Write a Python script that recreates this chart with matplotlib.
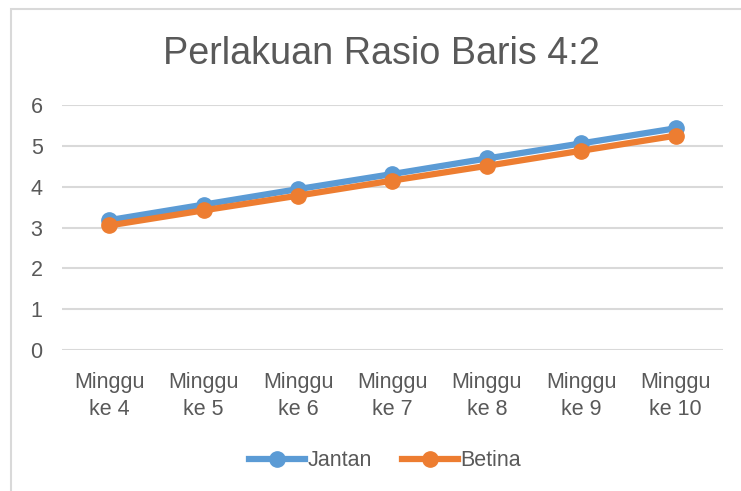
import matplotlib.pyplot as plt
from matplotlib.patches import Rectangle

minggu = ["Minggu\nke 4", "Minggu\nke 5", "Minggu\nke 6", "Minggu\nke 7",
          "Minggu\nke 8", "Minggu\nke 9", "Minggu\nke 10"]
jantan = [3.18, 3.56, 3.94, 4.31, 4.69, 5.06, 5.43]
betina = [3.05, 3.42, 3.78, 4.15, 4.51, 4.88, 5.25]

plt.rcParams['font.family'] = ['Liberation Sans', 'DejaVu Sans']
text_col = '#595959'

W, H = 741, 491
fig = plt.figure(figsize=(W / 100, H / 100), dpi=100)
ax = fig.add_axes([62 / W, 1 - 350 / H, (723 - 62) / W, (350 - 105) / H])

x = range(len(minggu))
ax.plot(x, jantan, color='#5B9BD5', lw=4.5, marker='o', ms=11, label='Jantan', zorder=3)
ax.plot(x, betina, color='#ED7D31', lw=4.5, marker='o', ms=11, label='Betina', zorder=4)

ax.set_xlim(-0.5, len(minggu) - 0.5)
ax.set_ylim(0, 6)
ax.set_yticks(range(7))
ax.set_xticks(list(x))
ax.set_xticklabels(minggu, linespacing=1.35)
ax.tick_params(axis='both', length=0, labelsize=15.5, colors=text_col)
ax.tick_params(axis='x', pad=16)
ax.tick_params(axis='y', pad=14)
ax.grid(axis='y', color='#D9D9D9', lw=1.5)
ax.set_axisbelow(True)
for s in ax.spines.values():
    s.set_visible(False)

fig.text(381 / W, 1 - 64.5 / H, "Perlakuan Rasio Baris 4:2", ha='center', va='baseline',
         fontsize=27.2, color=text_col)

fig.legend(loc='center', bbox_to_anchor=(385 / W, 1 - 461 / H), ncol=2, frameon=False,
           fontsize=15.5, labelcolor=text_col, handlelength=2.6, handletextpad=0.1,
           columnspacing=1.4)

# chart area border (partly cropped in the reference)
fig.patches.append(Rectangle((11 / W, -0.1), 1.2, 1 - 9 / H + 0.1, transform=fig.transFigure,
                             fill=False, edgecolor='#D9D9D9', lw=1.5))

fig.savefig('out.png', dpi=100)
